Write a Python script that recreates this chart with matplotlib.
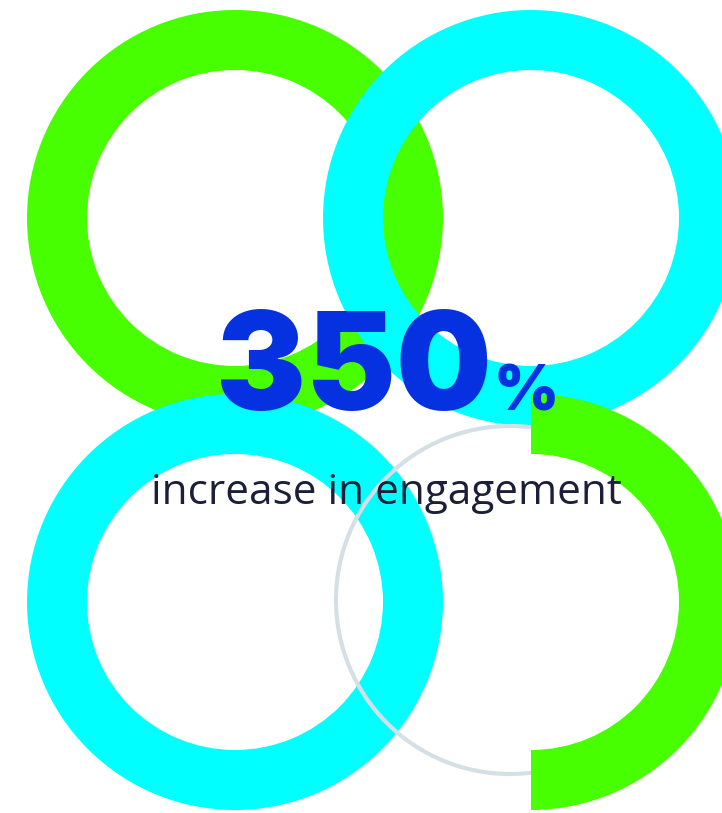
import matplotlib
matplotlib.use("Agg")
import matplotlib.pyplot as plt
from matplotlib.patches import Wedge, Circle

# ---- data ----
value = 350
value_suffix = "%"
label = "increase in engagement"

# ring layout (pixels)
W, H = 722, 813
GREEN = "#48ff00"
CYAN = "#00ffff"
BLUE = "#0631e0"
NAVY = "#1b2038"
GRAY = "#d5e0e6"
R_OUT, R_IN = 208, 148

fig = plt.figure(figsize=(W / 100, H / 100), dpi=100)
ax = fig.add_axes([0, 0, 1, 1])
ax.set_xlim(0, W)
ax.set_ylim(H, 0)
ax.set_aspect("equal")
ax.axis("off")

def ring(cx, cy, color, z, t1=0, t2=360):
    ax.add_patch(Wedge((cx, cy), R_OUT, t1, t2, width=R_OUT - R_IN,
                       facecolor=color, edgecolor="none", zorder=z))

ring(235, 218, GREEN, 1)
ring(531, 218, CYAN, 2)
ring(235, 602, CYAN, 3)
ax.add_patch(Circle((510, 600), 174, fill=False, edgecolor=GRAY, linewidth=3.0, zorder=4))
ring(531, 602, GREEN, 5, -90, 90)

ax.text(216, 410, f"{value}", fontsize=97, fontfamily="Inter", fontweight="black",
        color=BLUE, ha="left", va="baseline", zorder=10)
ax.text(493, 410, value_suffix, fontsize=45, fontfamily="Inter", fontweight="black",
        color=BLUE, ha="left", va="baseline", zorder=10)
ax.text(386, 504, label, fontsize=30.4, fontfamily="Open Sans", fontweight="normal",
        color=NAVY, ha="center", va="baseline", zorder=10)

fig.savefig("out.png", dpi=100, facecolor="white")
